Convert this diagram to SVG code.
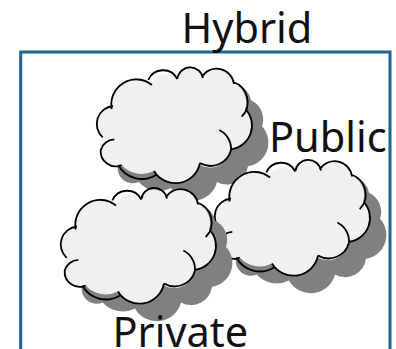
<svg xmlns="http://www.w3.org/2000/svg" xmlns:xlink="http://www.w3.org/1999/xlink" width="396" height="349" viewBox="0 0 396 349">
<style>
text{font-family:"Noto Sans","Open Sans","Liberation Sans",sans-serif;font-size:41.5px;fill:#111}
.s{fill:#808080}
.f{fill:#f0f0f0}
.l{fill:none;stroke:#000;stroke-width:1.8}
</style>
<defs>
<path id="o" d="M111.7,106A25,25 0 0 1 151.7,83.3A16,16 0 0 1 177.3,78.3A13,13 0 0 1 201.7,76.7A17.5,17.5 0 0 1 234,83.3A21,21 0 0 1 245,109.3A24,24 0 0 1 231,149.3A21,21 0 0 1 200,165A25,25 0 0 1 154,171A27,27 0 0 1 121.7,165A15,15 0 0 1 100.7,150A15,15 0 0 1 102.7,137.3A18,18 0 0 1 111.7,106Z"/>
<path id="i" d="M111.7,109A25,25 0 0 1 152,85M148.3,80A16,16 0 0 1 177.3,79M177.3,79A13,13 0 0 1 203,78M201.7,77A17.5,17.5 0 0 1 234,84M233,82A21,21 0 0 1 241.7,116.7M245.7,109.3A24,24 0 0 1 231,149.3M219.3,130A21,21 0 0 1 231,150A21,21 0 0 1 200,163M200,163A25,25 0 0 1 154,171M156,175A27,27 0 0 1 118.3,165M121.7,165A15,15 0 0 1 100.7,150A15,15 0 0 1 114.3,139.3M102.7,137.3A18,18 0 0 1 113,106"/>
<filter id="b" x="-10%" y="-10%" width="120%" height="120%"><feGaussianBlur stdDeviation="0.6"/></filter>
</defs>
<g id="frame"><path d="M20.7,349V52H390V349" fill="none" stroke="#1f6391" stroke-width="3"/></g>
<g id="hybrid"><text x="181.5" y="43">Hybrid</text></g>
<g id="public-label"><text x="269" y="152">Public</text></g>
<g id="cloud-top"><use xlink:href="#o" class="s" filter="url(#b)" transform="translate(17,17)"/><use xlink:href="#o" class="f"/><use xlink:href="#i" class="l"/></g>
<g id="cloud-public" transform="translate(118,92.5)"><use xlink:href="#o" class="s" filter="url(#b)" transform="translate(17,17)"/><use xlink:href="#o" class="f"/><use xlink:href="#i" class="l"/></g>
<g id="cloud-private" transform="translate(-36,120.5)"><use xlink:href="#o" class="s" filter="url(#b)" transform="translate(17,17)"/><use xlink:href="#o" class="f"/><use xlink:href="#i" class="l"/></g>
<g id="private-label"><text x="112.5" y="347">Private</text></g>
</svg>
